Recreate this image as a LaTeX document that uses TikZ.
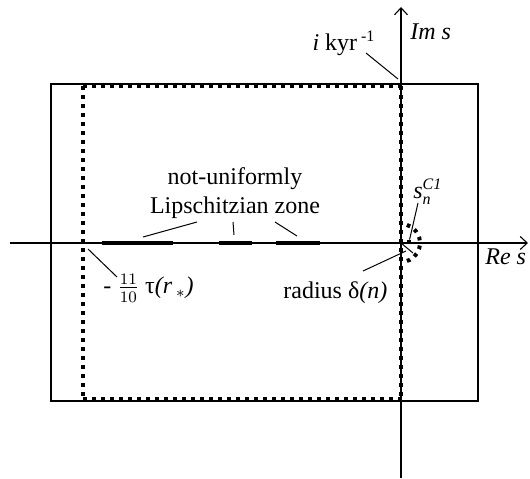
\documentclass[tikz,border=0pt]{standalone}
\usepackage{amsmath}
\usepackage{fontspec}
\setmainfont{Liberation Serif}
\usetikzlibrary{arrows.meta}
\begin{document}
\begin{tikzpicture}[x=0.5pt,y=-0.5pt,
  axis/.style={line width=0.55pt},
  frame/.style={line width=1.4pt},
  dotframe/.style={line width=1.6pt, dash pattern=on 2pt off 2.5pt},
  semi/.style={line width=2pt, dash pattern=on 1.8pt off 2.6pt},
  zone/.style={line width=2.3pt},
  leader/.style={line width=0.5pt},
  lbl/.style={inner sep=0pt, font=\fontsize{12}{14.5}\selectfont},
  tip/.style={-{Straight Barb[length=3.5pt,width=6.5pt,line width=0.55pt]}}
]
\useasboundingbox (0,0) rectangle (530,478);
% origin and axes
\coordinate (O) at (401,243);
\coordinate (reL) at (10,243);
\coordinate (reR) at (528,243);
\coordinate (imB) at (401,478);
\coordinate (imT) at (401,7);
% solid frame
\draw[frame] (51,84) rectangle (478,401);
% dotted frame
\draw[dotframe] (83,86) -- (401,86);
\draw[dotframe] (83,399) -- (401,399);
\draw[dotframe] (83,86) -- (83,399);
\draw[dotframe] (401,86) -- (401,399);
% axes
\draw[axis,tip] (reL) -- (reR);
\draw[axis,tip] (imB) -- (imT);
% non-uniform zones
\draw[zone] (102,243) coordinate (z1a) -- (173,243) coordinate (z1b);
\draw[zone] (219,243) coordinate (z2a) -- (252,243) coordinate (z2b);
\draw[zone] (276,243) coordinate (z3a) -- (320,243) coordinate (z3b);
% dotted semicircle and radius
\draw[semi] ([shift={(-72:19)}]O) arc[start angle=-72, end angle=78, radius=19];
\coordinate (rEnd) at (413,253);
\draw[leader] (O) -- (rEnd);
% point s_n
\node[fill, minimum size=2pt, inner sep=0pt] (sn) at (409,242) {};
% labels
\node[lbl, anchor=west] (imlbl) at (410,32) {\textit{Im s}};
\node[lbl] (ikyr) at (344,43) {\textit{i} kyr\textsuperscript{ -1}};
\node[lbl, anchor=west] (relbl) at (485,257) {\textit{Re s}};
\node[lbl, align=center] (nu) at (235,193) {not-uniformly\\Lipschitzian zone};
\node[lbl, anchor=west] (taulbl) at (103,288) {- $\frac{11}{10}$ τ\textit{(r}\,$_*$\textit{)}};
\node[lbl, anchor=west] (radlbl) at (283,293) {radius δ\textit{(n)}};
\node[lbl, anchor=west] (snlbl) at (413,192) {$\textit{s}^{\textit{C1}}_{\textit{n}}$};
% leaders
\coordinate (k1) at (366,53);
\coordinate (k2) at (398,79);
\draw[leader] (k1) -- (k2);
\coordinate (n1a) at (197,222); \coordinate (n1b) at (143,237);
\coordinate (n2a) at (233,222); \coordinate (n2b) at (234,235);
\coordinate (n3a) at (275,222); \coordinate (n3b) at (297,236);
\draw[leader] (n1a) -- (n1b);
\draw[leader] (n2a) -- (n2b);
\draw[leader] (n3a) -- (n3b);
\coordinate (t1) at (88,249); \coordinate (t2) at (117,277);
\draw[leader] (t1) -- (t2);
\coordinate (r1) at (363,271); \coordinate (r2) at (406,251);
\draw[leader] (r1) -- (r2);
\coordinate (s1) at (418,203);
\draw[leader] (s1) -- (sn);
\end{tikzpicture}
\end{document}
